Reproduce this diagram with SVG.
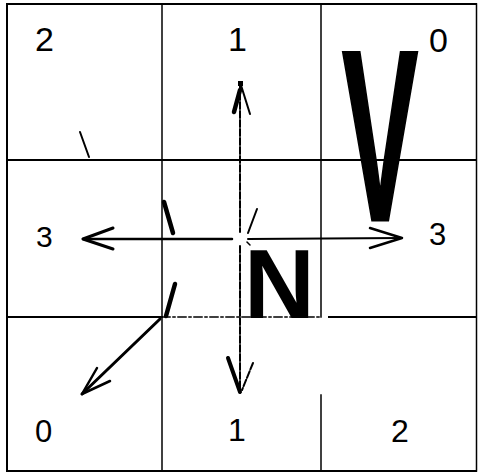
<svg xmlns="http://www.w3.org/2000/svg" width="478" height="473" viewBox="0 0 478 473">
<style>
.grid{stroke:#000;fill:none;stroke-linecap:square}
.lbl{font-family:"Liberation Sans",Arial,sans-serif;fill:#000}
.big{font-family:"Liberation Sans",Arial,sans-serif;font-weight:bold;fill:#000}
.ln{stroke:#000;fill:none;stroke-linecap:round;stroke-linejoin:round}
.dash{stroke-dasharray:7 2}
.dashdot{stroke-dasharray:8 3 2 3}
</style>
<rect width="478" height="473" fill="#fff"/>
<g id="grid">
  <line class="grid" x1="7" y1="4" x2="476" y2="4" stroke-width="2"/>
  <line class="grid" x1="7" y1="4" x2="7" y2="471" stroke-width="2"/>
  <line class="grid" x1="7" y1="471" x2="476" y2="471" stroke-width="2"/>
  <line class="grid" x1="476.5" y1="4" x2="476.5" y2="471" stroke-width="1.5"/>
  <line class="grid" x1="162" y1="4" x2="162" y2="471" stroke-width="1.5"/>
  <line class="grid" x1="321" y1="4" x2="321" y2="317" stroke-width="1.5"/>
  <line class="grid" x1="321" y1="395" x2="321" y2="471" stroke-width="1.5"/>
  <line class="grid" x1="7" y1="160" x2="476" y2="160" stroke-width="2"/>
  <line class="grid" x1="7" y1="317" x2="162" y2="317" stroke-width="2"/>
  <line class="grid dashdot" x1="162" y1="317" x2="321" y2="317" stroke-width="1.5" stroke-linecap="butt"/>
  <line class="grid" x1="329" y1="317" x2="476" y2="317" stroke-width="2"/>
</g>
<g id="labels">
  <text class="lbl" x="35" y="51" font-size="34">2</text>
  <text class="lbl" x="228" y="51" font-size="34">1</text>
  <text class="lbl" x="429" y="52" font-size="34">0</text>
  <text class="lbl" x="36" y="247" font-size="30">3</text>
  <text class="lbl" x="429" y="245" font-size="31">3</text>
  <text class="lbl" x="35" y="442" font-size="31">0</text>
  <text class="lbl" x="228" y="441" font-size="32">1</text>
  <text class="lbl" x="391" y="442" font-size="32">2</text>
</g>
<g id="letters">
  <text class="big" font-size="243" stroke="#000" stroke-width="3" transform="translate(342 220) scale(0.47 1)">V</text>
  <text class="big" font-size="98" x="244" y="318">N</text>
</g>
<g id="connectors">
  <line class="ln" x1="83" y1="239" x2="232" y2="239" stroke-width="2.5"/>
  <line class="ln" x1="248" y1="239" x2="402" y2="238" stroke-width="2"/>
  <line class="ln dash" x1="240" y1="84" x2="240" y2="232" stroke-width="2" stroke-linecap="butt"/>
  <line class="ln dash" x1="240" y1="246" x2="240" y2="392" stroke-width="2" stroke-linecap="butt"/>
  <line class="ln" x1="160" y1="319" x2="82" y2="394" stroke-width="3"/>
  <polyline class="ln" points="113,228 83,239 113,249" stroke-width="3"/>
  <polyline class="ln" points="370,228 402,238 370,248" stroke-width="2.5"/>
  <line class="ln" x1="240" y1="82" x2="250" y2="114" stroke-width="2"/>
  <rect x="238" y="81" width="5" height="5" fill="#000"/>
  <line class="ln" x1="240" y1="90" x2="234" y2="112" stroke-width="4.5" stroke-linecap="butt"/>
  <line class="ln" x1="228" y1="358" x2="240" y2="392" stroke-width="4" stroke-linecap="butt"/>
  <line class="ln dash" x1="253" y1="363" x2="242" y2="390" stroke-width="2"/>
  <polyline class="ln" points="97,368 82,394 110,381" stroke-width="2.5"/>
</g>
<g id="marks">
  <line class="ln" x1="80" y1="132" x2="89" y2="157" stroke-width="2"/>
  <line class="ln" x1="164" y1="202" x2="173" y2="233" stroke-width="4.5" stroke-linecap="butt"/>
  <line class="ln" x1="175" y1="284" x2="166" y2="316" stroke-width="4.5" stroke-linecap="butt"/>
  <line class="ln" x1="257" y1="209" x2="248" y2="233" stroke-width="2"/>
  <line class="ln" x1="247" y1="242" x2="250" y2="245" stroke-width="1.5"/>
</g>
</svg>
